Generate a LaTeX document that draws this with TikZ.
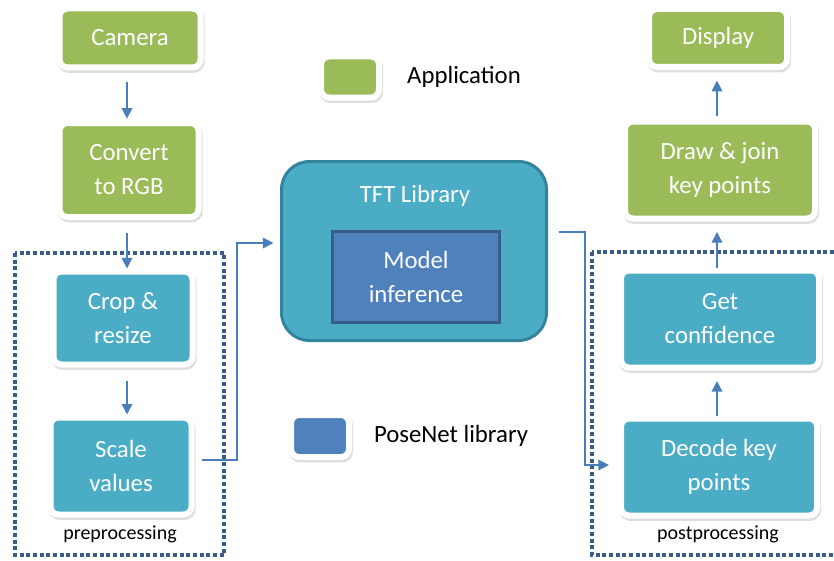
\documentclass[tikz,border=0pt]{standalone}
\usepackage{fontspec}
\setmainfont{Carlito}
\usepackage{tikz}
\usetikzlibrary{positioning, arrows.meta, calc}

\definecolor{appgreen}{HTML}{9BBB59}
\definecolor{libteal}{HTML}{4BACC6}
\definecolor{tealedge}{HTML}{31849B}
\definecolor{poseblue}{HTML}{4F81BD}
\definecolor{poseedge}{HTML}{385D8A}
\definecolor{flowblue}{HTML}{4A7EBB}
\definecolor{dotblue}{HTML}{385D8A}

\begin{document}
\begin{tikzpicture}[x=0.75pt, y=-0.75pt,
	boxtext/.style={font=\fontsize{18.6}{25.5}\selectfont, text=white, align=center},
	card/.style={draw=white, line width=4.5pt, rounded corners=6pt, inner sep=0pt,
		preaction={draw=black!13, fill=black!13, line width=4.5pt, transform canvas={xshift=0.8pt, yshift=-1.8pt}}},
	appbox/.style={card, fill=appgreen, boxtext},
	stepbox/.style={card, fill=libteal, boxtext},
	flow/.style={draw=flowblue, line width=1.1pt, -{Triangle[length=8pt, width=8pt]}},
	dotbox/.style={draw=dotblue, line width=3pt, dash pattern=on 3pt off 2pt},
	plain/.style={font=\fontsize{18.6}{22}\selectfont},
	small/.style={font=\fontsize{15}{18}\selectfont}]
	\clip (0,0) rectangle (834,560);

	% Groups
	\draw[dotbox] (15,253) rectangle (224,555);
	\draw[dotbox] (592,252) rectangle (850,555);

	% Application steps
	\node[appbox, minimum width=105.75pt, minimum height=44.25pt] (camera) at (130,38) {Camera};
	\node[appbox, minimum width=104.25pt, minimum height=70.5pt] (convert) at (129,170) {Convert\\to RGB};
	\node[appbox, minimum width=103.5pt, minimum height=43.5pt] (display) at (718,38) {Display};
	\node[appbox, minimum width=142.5pt, minimum height=72.75pt] (drawkp) at (720,170) {Draw \& join\\key points};

	% Pre / post processing
	\node[stepbox, minimum width=104.25pt, minimum height=69.75pt] (crop) at (123,318) {Crop \&\\resize};
	\node[stepbox, minimum width=105.75pt, minimum height=72.75pt] (scale) at (121,466) {Scale\\values};
	\node[stepbox, minimum width=148.5pt, minimum height=72.75pt] (getconf) at (720,319) {Get\\confidence};
	\node[stepbox, minimum width=147pt, minimum height=72.75pt] (decode) at (719,467) {Decode key\\points};
	\node[small] (prelabel) at (120,534) {preprocessing};
	\node[small] (postlabel) at (718,534) {postprocessing};

	% Library
	\node[draw=tealedge, fill=libteal, line width=2.25pt, rounded corners=21pt,
		minimum width=198.75pt, minimum height=134.25pt] (tft) at (414,251) {};
	\node[plain, text=white] (tftlabel) at (415,196) {TFT Library};
	\node[draw=poseedge, fill=poseblue, line width=2pt, boxtext,
		minimum width=125.25pt, minimum height=68.25pt] (model) at (416,277) {Model\\inference};

	% Legend
	\node[card, fill=appgreen, minimum width=43.5pt, minimum height=30.75pt] (legapp) at (350,77) {};
	\node[plain] (legapptext) at (464,77) {Application};
	\node[card, fill=poseblue, minimum width=43.5pt, minimum height=31.5pt] (legpose) at (320,436) {};
	\node[plain] (legposetext) at (451,436) {PoseNet library};

	% Flow
	\draw[flow, shorten <=8.6pt, shorten >=1pt] (camera.south -| 127,0) -- (convert.north -| 127,0);
	\draw[flow, shorten <=9.7pt] (convert.south -| 127,0) -- (crop.north -| 127,0);
	\draw[flow, shorten <=10pt] (crop.south -| 127,0) -- (scale.north -| 127,0);
	\coordinate (bendL) at (237,243);
	\draw[flow, shorten <=5.6pt, shorten >=4.9pt] ([yshift=4.5pt]scale.east) -| (bendL) -- (bendL -| tft.west);
	\coordinate (bendR) at (585,465);
	\draw[flow, shorten <=7.9pt, shorten >=6.8pt] ([yshift=14.25pt]tft.east) -| (bendR) -- (bendR -| decode.west);
	\draw[flow, shorten >=7.9pt] (decode.north -| 717,0) -- (getconf.south -| 717,0);
	\draw[flow, shorten >=7.9pt] (getconf.north -| 717,0) -- (drawkp.south -| 717,0);
	\draw[flow, shorten <=2pt, shorten >=8pt] (drawkp.north -| 717,0) -- (display.south -| 717,0);
\end{tikzpicture}
\end{document}
